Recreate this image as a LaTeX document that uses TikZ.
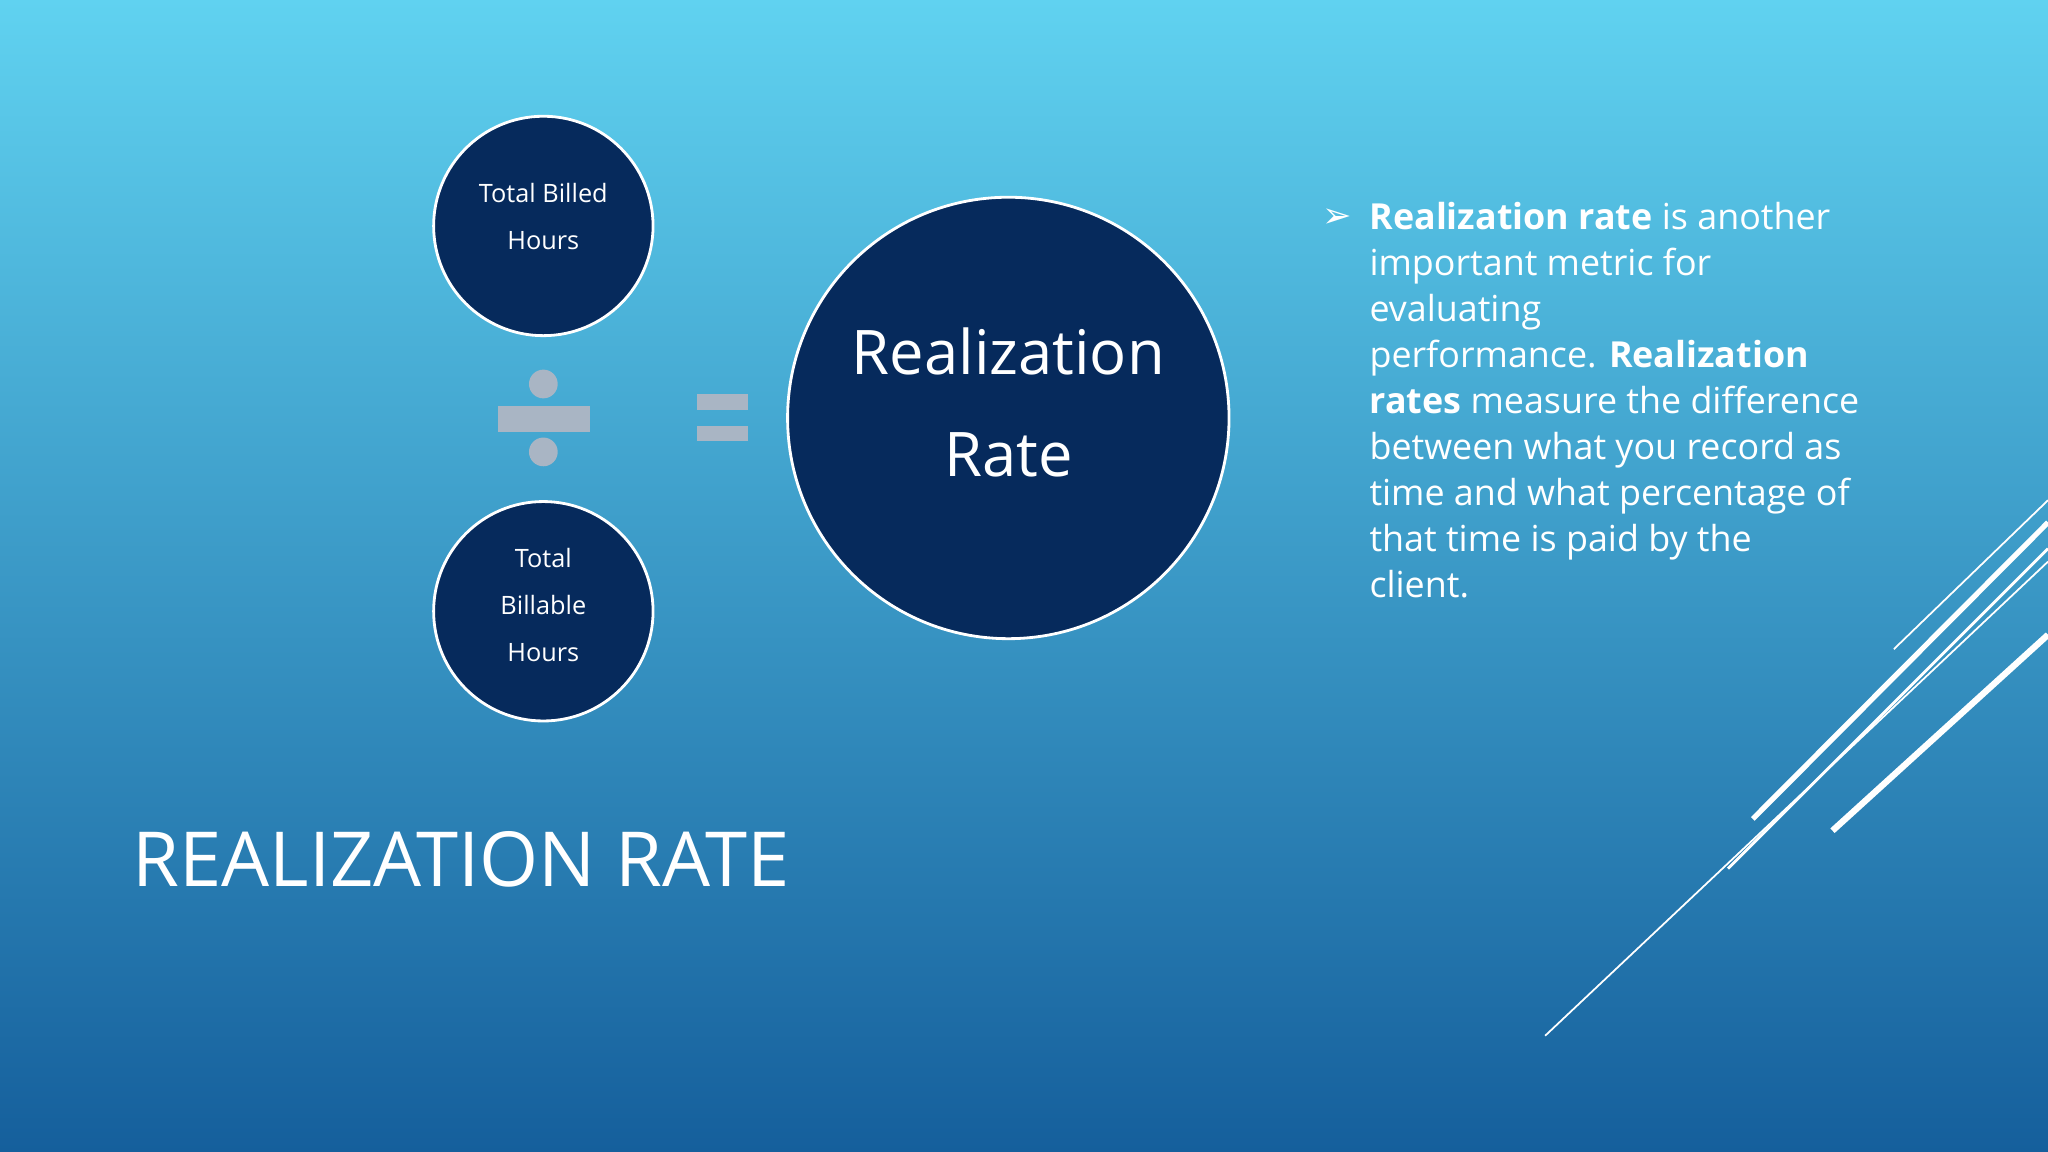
\documentclass[tikz,border=0pt]{standalone}
\usepackage{fontspec}
\setmainfont{Open Sans}
\newfontfamily\symfont{DejaVu Sans}
\definecolor{navy}{HTML}{062A5C}
\definecolor{bgtop}{HTML}{60D2F0}
\definecolor{bgbot}{HTML}{155F9C}
\definecolor{sgray}{HTML}{A9B5C4}
\begin{document}
\begin{tikzpicture}[x=0.01306cm,y=-0.01306cm,
  circ/.style={circle,fill=navy,draw=white,line width=0.8pt,text=white,align=center,inner sep=0pt},
  sym/.style={fill=sgray},
  deco/.style={draw=white}]
\useasboundingbox (0,0) rectangle (1568,882);
\shade[top color=bgtop,bottom color=bgbot] (0,0) rectangle (1568,882);
\node[circ,minimum size=168*0.01306cm] (tb) at (416,173) {};
\node[text=white,align=center,font=\fontsize{7.2}{13.4}\selectfont] (tbt) at (416,166) {Total Billed\\Hours};
\node[circ,minimum size=168*0.01306cm] (tbl) at (416,468) {};
\node[text=white,align=center,font=\fontsize{7.2}{13.4}\selectfont] (tblt) at (416,463) {Total\\Billable\\Hours};
\node[circ,minimum size=338*0.01306cm] (rr) at (772,320) {};
\node[text=white,align=center,font=\fontsize{17.5}{29}\selectfont] (rrt) at (772,308) {Realization\\Rate};
\fill[sym] (381,311) rectangle (452,331);
\fill[sym] (416,294) circle (11);
\fill[sym] (416,346) circle (11);
\fill[sym] (534,302) rectangle (573,314);
\fill[sym] (534,326) rectangle (573,338);
\node[anchor=base west,text=white,font=\fontsize{21.6}{26}\selectfont,inner sep=0pt] (title) at (101,679) {REALIZATION RATE};
\node[anchor=base west,text=white,font=\symfont\fontsize{10}{12}\selectfont,inner sep=0pt] (bul) at (1012,174) {➢};
\node[anchor=north west,text=white,align=left,font=\fontsize{10.2}{13.1}\selectfont,inner sep=0pt] (txt) at (1048,154)
{\textbf{Realization rate} is another\\important metric for\\evaluating\\performance. \textbf{Realization}\\\textbf{rates} measure the difference\\between what you record as\\time and what percentage of\\that time is paid by the\\client.};
\draw[deco,line width=0.5pt] (1183,793) -- (1568,430);
\draw[deco,line width=0.5pt] (1450,497) -- (1568,383);
\draw[deco,line width=1.5pt] (1342,627) -- (1568,400);
\draw[deco,line width=0.8pt] (1323,665) -- (1568,420);
\draw[deco,line width=1.8pt] (1403,636) -- (1568,486);
\end{tikzpicture}
\end{document}
